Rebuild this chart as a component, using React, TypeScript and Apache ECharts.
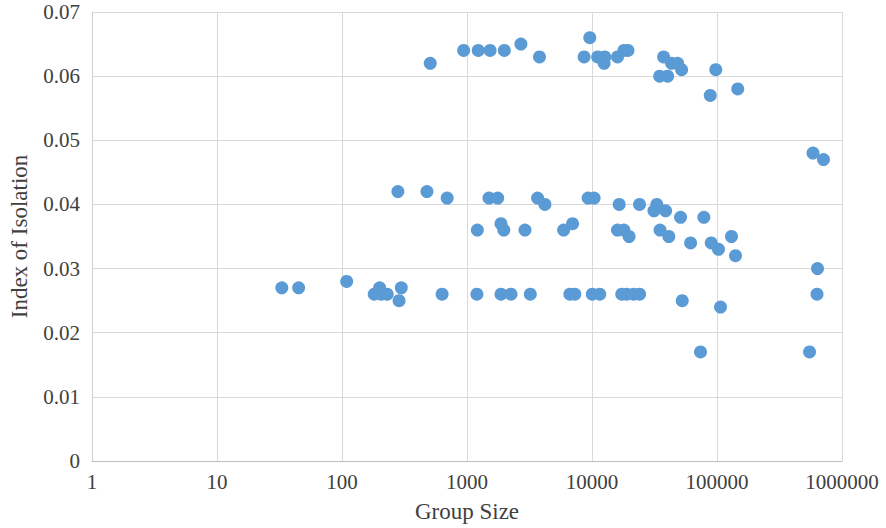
import React, { useEffect, useRef } from "react";
import * as echarts from "echarts";

// Group size (x, log scale) and index of isolation (y) for each point
const groupSize: number[] = [
  // ~0.057-0.066 band
  940, 1230, 1530, 1990, 18000, 19400, 2700, 3800, 8650, 11100, 12650, 16000, 37400,
  9600, 12500, 43300, 48400, 508, 52100, 97800, 34800, 40300, 88300, 146600,
  // upper right
  586000, 711000,
  // ~0.030-0.042 band
  280, 478, 694, 1500, 1760, 3670, 9310, 10400, 4200, 16500, 24000, 33000,
  31300, 38800, 51100, 78500, 1870, 6990, 1210, 1970, 2910, 5930, 16000, 18000,
  35000, 19800, 41200, 130600, 61500, 89900, 102800, 140600, 637000,
  // ~0.024-0.028 band
  109, 33, 45, 200, 298, 181, 206, 230, 632, 1200, 1870, 2250, 3210, 6650, 7290,
  10050, 11540, 17300, 18960, 21570, 24050, 631000, 286, 52700, 106700,
  // low
  73800, 550000,
];

const isolation: number[] = [
  0.064, 0.064, 0.064, 0.064, 0.064, 0.064, 0.065, 0.063, 0.063, 0.063, 0.063, 0.063, 0.063,
  0.066, 0.062, 0.062, 0.062, 0.062, 0.061, 0.061, 0.060, 0.060, 0.057, 0.058,
  0.048, 0.047,
  0.042, 0.042, 0.041, 0.041, 0.041, 0.041, 0.041, 0.041, 0.040, 0.040, 0.040, 0.040,
  0.039, 0.039, 0.038, 0.038, 0.037, 0.037, 0.036, 0.036, 0.036, 0.036, 0.036, 0.036,
  0.036, 0.035, 0.035, 0.035, 0.034, 0.034, 0.033, 0.032, 0.030,
  0.028, 0.027, 0.027, 0.027, 0.027, 0.026, 0.026, 0.026, 0.026, 0.026, 0.026, 0.026, 0.026, 0.026, 0.026,
  0.026, 0.026, 0.026, 0.026, 0.026, 0.026, 0.026, 0.025, 0.025, 0.024,
  0.017, 0.017,
];

const xAxisTitle = "Group Size";
const yAxisTitle = "Index of Isolation";

const FONT = "Liberation Serif";

export default function App() {
  const ref = useRef<HTMLDivElement>(null);

  useEffect(() => {
    if (!ref.current) return;
    const chart = echarts.init(ref.current, undefined, { renderer: "svg" });
    const data = groupSize.map((x, i) => [x, isolation[i]]);
    chart.setOption({
      animation: false,
      backgroundColor: "#ffffff",
      textStyle: { fontFamily: FONT },
      grid: { left: 90, right: 44, top: 12, bottom: 66, containLabel: false },
      xAxis: {
        type: "log",
        logBase: 10,
        min: 1,
        max: 1000000,
        name: xAxisTitle,
        nameLocation: "middle",
        nameGap: 39,
        nameTextStyle: { fontFamily: FONT, fontSize: 23, color: "#404040" },
        axisLine: { show: true, lineStyle: { color: "#bfbfbf", width: 1 } },
        axisTick: { show: false },
        axisLabel: {
          fontFamily: FONT,
          fontSize: 21,
          color: "#404040",
          margin: 10,
          formatter: (v: number) => String(Math.round(v)),
        },
        splitLine: { show: true, lineStyle: { color: "#d9d9d9", width: 1 } },
        minorTick: { show: false },
        minorSplitLine: { show: false },
      },
      yAxis: {
        type: "value",
        min: 0,
        max: 0.07,
        interval: 0.01,
        name: yAxisTitle,
        nameLocation: "middle",
        nameGap: 61,
        nameTextStyle: { fontFamily: FONT, fontSize: 23, color: "#404040" },
        axisLine: { show: true, lineStyle: { color: "#d0d0d0", width: 1 } },
        axisTick: { show: false },
        axisLabel: {
          fontFamily: FONT,
          fontSize: 21,
          color: "#404040",
          margin: 12,
          formatter: (v: number) => (v === 0 ? "0" : v.toFixed(2)),
        },
        splitLine: { show: true, lineStyle: { color: "#d9d9d9", width: 1 } },
      },
      series: [
        {
          type: "scatter",
          data,
          symbol: "circle",
          symbolSize: 13,
          itemStyle: { color: "#5b9bd5", opacity: 1 },
        },
      ],
    });
    return () => chart.dispose();
  }, []);

  return (
    <div
      ref={ref}
      style={{ position: "absolute", left: 0, top: 0, width: 886, height: 528 }}
    />
  );
}
